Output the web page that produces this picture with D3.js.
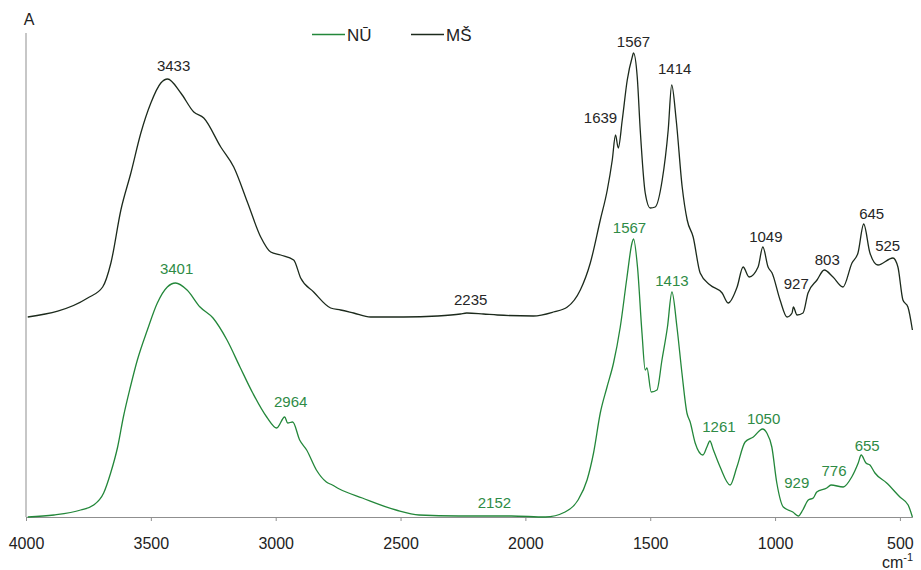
<!DOCTYPE html>
<html>
<head>
<meta charset="utf-8">
<script src="https://cdn.jsdelivr.net/npm/d3@7"></script>
<style>
  body { margin: 0; background: #fff; }
  svg text { font-family: "Liberation Sans", Arial, sans-serif; }
</style>
</head>
<body>
<svg id="chart" width="921" height="570"></svg>
<script>
// wavenumbers (cm-1) and absorbance (arbitrary units)
var msWave = [3993,3753,3693,3660,3620,3580,3540,3500,3460,3433,3380,3328,3288,3220,3168,3112,3060,3020,2980,2928,2900,2848,2780,2740,2688,2620,2488,2352,2260,2235,2168,2112,1968,1888,1832,1780,1740,1700,1672,1652,1639,1628,1612,1592,1572,1567,1552,1540,1520,1500,1480,1452,1428,1414,1396,1372,1352,1328,1300,1260,1212,1188,1152,1128,1104,1068,1049,1028,1012,980,952,932,927,912,888,868,832,803,768,728,692,668,645,620,588,528,508,488,468,450];
var msAbs  = [2.00,2.19,2.30,2.54,3.07,3.44,3.84,4.14,4.34,4.38,4.24,4.05,3.99,3.70,3.50,3.14,2.80,2.65,2.62,2.57,2.39,2.25,2.09,2.07,2.04,2.00,2.00,2.01,2.03,2.04,2.03,2.02,2.01,2.05,2.10,2.27,2.54,2.97,3.27,3.57,3.82,3.69,3.97,4.37,4.60,4.64,4.40,3.87,3.24,3.09,3.10,3.37,3.87,4.32,3.97,3.30,2.97,2.80,2.44,2.32,2.24,2.14,2.30,2.50,2.40,2.50,2.70,2.50,2.44,2.17,2.00,2.04,2.10,2.02,2.04,2.24,2.37,2.47,2.40,2.30,2.54,2.64,2.93,2.64,2.52,2.59,2.50,2.17,2.10,1.87];

var nuWave = [3993,3888,3781,3729,3689,3661,3633,3610,3582,3554,3514,3474,3434,3401,3355,3303,3251,3195,3143,3092,3036,2996,2964,2952,2932,2904,2876,2837,2797,2773,2745,2653,2518,2426,2267,2152,2056,1920,1841,1789,1753,1727,1700,1673,1647,1620,1593,1573,1567,1551,1533,1520,1513,1496,1473,1453,1431,1413,1393,1373,1353,1340,1320,1289,1273,1261,1247,1220,1180,1153,1120,1087,1050,1033,1013,993,967,929,907,889,867,847,833,793,776,727,693,667,655,636,620,600,553,500,467,450];
var nuAbs  = [0.00,0.02,0.07,0.12,0.24,0.44,0.70,1.00,1.30,1.57,1.87,2.14,2.30,2.34,2.27,2.10,1.99,1.77,1.50,1.24,1.00,0.89,1.00,0.94,0.95,0.77,0.67,0.47,0.35,0.32,0.28,0.19,0.07,0.02,0.01,0.01,0.01,0.00,0.05,0.17,0.37,0.64,1.04,1.30,1.54,1.90,2.40,2.74,2.78,2.50,1.84,1.47,1.49,1.25,1.27,1.57,1.90,2.25,1.90,1.44,1.04,0.95,0.74,0.62,0.70,0.76,0.67,0.50,0.32,0.50,0.75,0.80,0.88,0.84,0.70,0.34,0.10,0.05,0.01,0.07,0.17,0.19,0.25,0.29,0.32,0.30,0.40,0.54,0.62,0.54,0.52,0.44,0.34,0.20,0.12,0.00];

var msPeaks = [3433, 2235, 1639, 1567, 1414, 1049, 927, 803, 645, 525];
var nuPeaks = [3401, 2964, 2152, 1567, 1413, 1261, 1050, 929, 776, 655];

var xTicks = [4000, 3500, 3000, 2500, 2000, 1500, 1000, 500];

var seriesNames = ["NŪ", "MŠ"];
var seriesColors = ["#23873a", "#1c2a1c"];
var labelColors = ["#2e8b46", "#262626"];

// label nudges (px) relative to the peak point: [dx, dy]
var nudge = {
  "MŠ": {3433:[6,-8.5], 2235:[4,-8], 1639:[-15,-12], 1567:[0,-6], 1414:[3,-11], 1049:[3,-5], 927:[3,-18], 803:[3,-5], 645:[8,-5], 525:[-6,-8.5]},
  "NŪ": {3401:[1,-9], 2964:[6,-10], 2152:[7,-8], 1567:[-4,-6], 1413:[0,-6], 1261:[9,-9], 1050:[1,-5], 929:[4,-24], 776:[3,-9], 655:[6,-4]}
};

var svg = d3.select("#chart");

var x = d3.scaleLinear().domain([4000, 450]).range([26, 912.4]);
var y = d3.scaleLinear().domain([0, 4.84]).range([517, 33]);

var series = [
  {name: "NŪ", wave: nuWave, abs: nuAbs, peaks: nuPeaks},
  {name: "MŠ", wave: msWave, abs: msAbs, peaks: msPeaks}
];

// axes
var xAxis = d3.axisBottom(x)
    .tickValues(xTicks)
    .tickFormat(d3.format("d"))
    .tickSize(4).tickSizeOuter(0).tickPadding(28);
var gx = svg.append("g").attr("transform", "translate(0,517)").call(xAxis);
gx.select(".domain").attr("stroke", "#8f8f8f");
gx.selectAll(".tick line").attr("stroke", "#8f8f8f");
gx.selectAll(".tick text")
    .attr("font-size", 16)
    .attr("fill", "#222")
    .attr("dy", "0");

svg.append("line")
    .attr("x1", x(4000)).attr("x2", x(4000))
    .attr("y1", 33).attr("y2", 517)
    .attr("stroke", "#8f8f8f");

svg.append("text")
    .attr("x", 29).attr("y", 25)
    .attr("text-anchor", "middle")
    .attr("font-size", 16)
    .attr("fill", "#222")
    .text("A");

var unit = svg.append("text")
    .attr("x", 882).attr("y", 568)
    .attr("font-size", 16)
    .attr("fill", "#222")
    .text("cm");
unit.append("tspan").attr("dy", -7).attr("font-size", 11).text("-1");

// spectra
var line = d3.line()
    .curve(d3.curveMonotoneX)
    .x(function(d) { return x(d[0]); })
    .y(function(d) { return y(d[1]); });

series.forEach(function(s, i) {
  var pts = d3.zip(s.wave, s.abs);
  svg.append("path")
      .datum(pts)
      .attr("fill", "none")
      .attr("stroke", seriesColors[i])
      .attr("stroke-width", 1.3)
      .attr("stroke-linejoin", "round")
      .attr("d", line);

  // peak labels
  var interp = function(w) {
    for (var k = 0; k < s.wave.length - 1; k++) {
      if (w <= s.wave[k] && w >= s.wave[k+1]) {
        var t = (s.wave[k] - w) / (s.wave[k] - s.wave[k+1]);
        return s.abs[k] + t * (s.abs[k+1] - s.abs[k]);
      }
    }
    return 0;
  };
  svg.append("g").selectAll("text")
      .data(s.peaks)
    .enter().append("text")
      .attr("x", function(d) { return x(d) + nudge[s.name][d][0]; })
      .attr("y", function(d) { return y(interp(d)) + nudge[s.name][d][1]; })
      .attr("text-anchor", "middle")
      .attr("font-size", 15)
      .attr("fill", labelColors[i])
      .text(function(d) { return d; });
});

// legend
var legend = svg.append("g");
var legX = [312, 411];
seriesNames.forEach(function(n, i) {
  legend.append("line")
      .attr("x1", legX[i]).attr("x2", legX[i] + 33)
      .attr("y1", 34.5).attr("y2", 34.5)
      .attr("stroke", seriesColors[i])
      .attr("stroke-width", 1.3);
  legend.append("text")
      .attr("x", legX[i] + 35).attr("y", 41)
      .attr("font-size", 17)
      .attr("fill", "#222")
      .text(n);
});
</script>
</body>
</html>
